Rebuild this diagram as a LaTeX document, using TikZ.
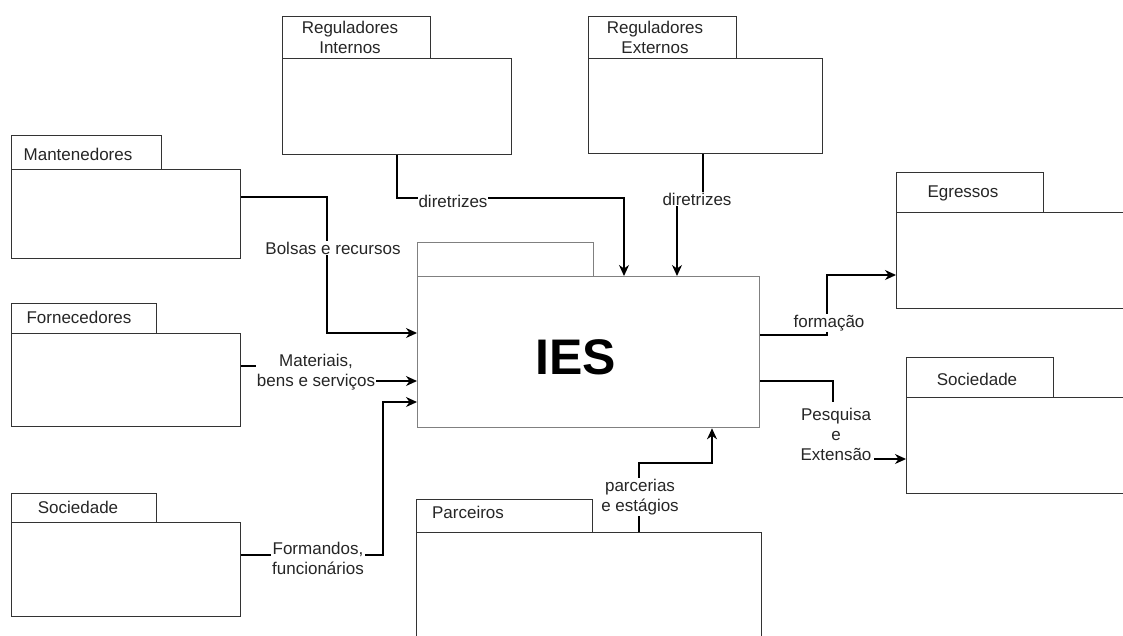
\documentclass[tikz,border=0pt]{standalone}
\usepackage{fontspec}
\setmainfont{Liberation Sans}
\usetikzlibrary{arrows.meta}

% folder-shaped box: body node #1 and tab node #1tab
% args: name, left x, tab right x, tab top y, body top y, body right x, body bottom y
\newcommand\folderbox[7]{%
  \node[box, minimum width={(#6)-(#2)}, minimum height={(#7)-(#5)}] (#1) at (#2,#5) {};
  \node[box, minimum width={(#3)-(#2)}, minimum height={(#5)-(#4)}] (#1tab) at (#2,#4) {};
}

\begin{document}
\begin{tikzpicture}[x=1pt,y=-1pt,
  box/.style={draw=black!80, line width=1.3pt, inner sep=0pt, anchor=north west},
  tabtxt/.style={font=\fontsize{17}{20}\selectfont, text=black!85, inner sep=0pt, align=center},
  lbl/.style={font=\fontsize{17}{20}\selectfont, text=black!85, fill=white, inner sep=1pt, align=center},
  arr/.style={draw=black, line width=1.3pt, -{Stealth[length=11pt,width=10pt,inset=3.5pt]}},
]
\useasboundingbox (0,0) rectangle (1123,635);
\fill[white] (0,0) rectangle (1123,635);
\clip (0,0) rectangle (1123,635);

% folder boxes
\folderbox{regint}{282}{430}{16}{58}{511}{154}
\folderbox{regext}{588}{736}{16}{58}{822}{153}
\folderbox{mant}{11}{161}{135}{169}{240}{258}
\folderbox{forn}{11}{156}{303}{333}{240}{426}
\folderbox{socl}{11}{156}{493}{522}{240}{616}
\begin{scope}[box/.append style={draw=black!50}]
\folderbox{ies}{417}{593}{242}{276}{759}{427}
\end{scope}
\folderbox{parc}{416}{592}{499}{532}{761}{700}
\folderbox{egr}{896}{1043}{172}{212}{1200}{308}
\folderbox{socr}{906}{1053}{357}{397}{1200}{493}

% tab titles
\node[tabtxt] (regintT) at (350,37) {Reguladores\\Internos};
\node[tabtxt] (regextT) at (655,37) {Reguladores\\Externos};
\node[tabtxt] (mantT) at (78,154) {Mantenedores};
\node[tabtxt] (fornT) at (79,317) {Fornecedores};
\node[tabtxt] (soclT) at (78,507) {Sociedade};
\node[tabtxt] (parcT) at (468,512) {Parceiros};
\node[tabtxt] (egrT) at (963,193) {Egressos};
\node[tabtxt] (socrT) at (977,379) {Sociedade};
\node[font=\fontsize{50}{50}\selectfont\bfseries, inner sep=0pt] (iesT) at (576,357) {IES};

% connectors
\draw[arr] (regint.south -| 397,0) -- (397,198) -- (624,198) -- (ies.north -| 624,0);
\node[lbl] (l1) at (453,201) {diretrizes};

\draw[arr] (regext.south -| 703,0) -- (703,199) -- (677,199) -- (ies.north -| 677,0);
\node[lbl] (l2) at (697,199) {diretrizes};

\draw[arr] (mant.east |- 0,197) -- (327,197) -- (327,333) -- (ies.west |- 0,333);
\node[lbl] (l3) at (333,248) {Bolsas e recursos};

\draw[arr] (forn.east |- 0,366) -- (313,366) -- (313,381) -- (ies.west |- 0,381);
\node[lbl] (l4) at (316,372) {Materiais,\\bens e serviços};

\draw[arr] (socl.east |- 0,555) -- (383,555) -- (383,402) -- (ies.west |- 0,402);
\node[lbl] (l5) at (318,558) {Formandos,\\funcionários};

\draw[arr] (ies.east |- 0,335) -- (827,335) -- (827,275) -- (egr.west |- 0,275);
\node[lbl] (l6) at (829,323) {formação};

\draw[arr] (ies.east |- 0,381) -- (833,381) -- (833,459) -- (socr.west |- 0,459);
\node[lbl, inner ysep=6pt, inner xsep=3pt] (l7) at (836,434) {Pesquisa\\e\\Extensão};

\draw[arr] (parc.north -| 639,0) -- (639,463) -- (712,463) -- (ies.south -| 712,0);
\node[lbl] (l8) at (640,497) {parcerias\\e estágios};
\end{tikzpicture}
\end{document}
